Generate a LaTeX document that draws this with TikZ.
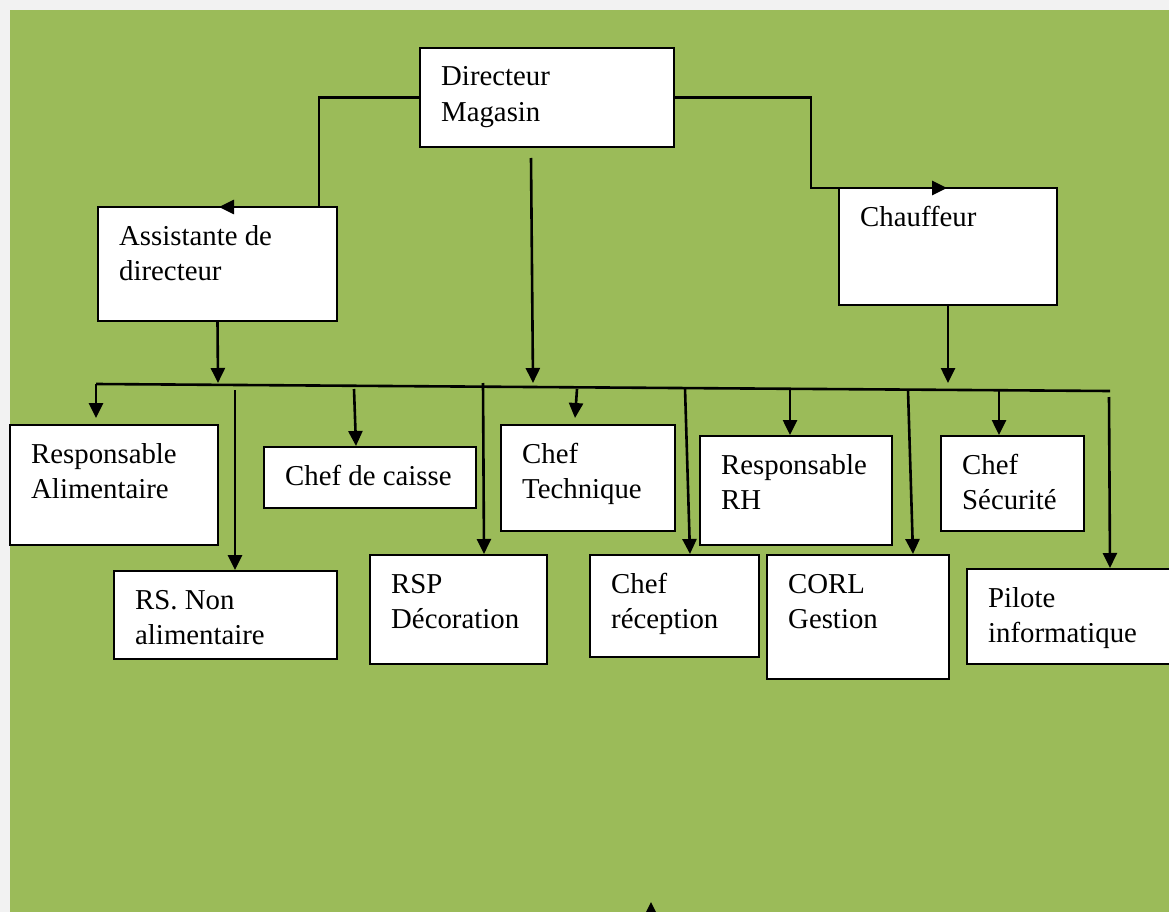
\documentclass[tikz,border=0pt]{standalone}
\usepackage{fontspec}
\setmainfont{Liberation Serif}
\usetikzlibrary{arrows.meta}
\definecolor{bggreen}{HTML}{9BBB59}
\definecolor{bggray}{HTML}{F2F2F2}
\newcommand\twolines[2]{\vtop{\hbox{#1}\hbox{#2}}}
\newcommand\orgbox[6]{%
  \node[orgrect, minimum width={#4-#2}, minimum height={#5-#3}, anchor=north west] (#1) at (#2,#3) {};
  \node[orglabel] (#1-t) at (#2+21,#3+38) {#6};}
\begin{document}
\begin{tikzpicture}[x=1pt,y=-1pt,
  orgrect/.style={draw=black, fill=white, line width=1.8pt, inner sep=0pt, outer sep=0pt},
  orglabel/.style={anchor=base west, inner sep=0pt, font=\fontsize{28.8}{35.5}\selectfont},
  conn/.style={line width=2.6pt, -{Triangle[length=15pt,width=14pt]}},
  bus/.style={line width=2.6pt}]
\useasboundingbox (0,0) rectangle (1169,912);
\clip (0,0) rectangle (1169,912);
\fill[bggray] (0,0) rectangle (1169,912);
\fill[bggreen] (10,10) rectangle (1169,912);

\orgbox{dir}{420}{48}{674}{147}{\twolines{Directeur}{Magasin}}
\orgbox{asst}{98}{207}{337}{321}{\twolines{Assistante de}{directeur}}
\orgbox{chauf}{839}{188}{1057}{305}{Chauffeur}
\orgbox{ralim}{10}{425}{218}{545}{\twolines{Responsable}{Alimentaire}}
\orgbox{caisse}{264}{447}{476}{508}{Chef de caisse}
\orgbox{tech}{501}{425}{675}{531}{\twolines{Chef}{Technique}}
\orgbox{rh}{700}{436}{892}{545}{\twolines{Responsable}{RH}}
\orgbox{secu}{941}{436}{1084}{531}{\twolines{Chef}{Sécurité}}
\orgbox{rsnon}{114}{571}{337}{659}{\twolines{RS. Non}{alimentaire}}
\orgbox{rsp}{370}{555}{547}{664}{\twolines{RSP}{Décoration}}
\orgbox{recep}{590}{555}{759}{657}{\twolines{Chef}{réception}}
\orgbox{corl}{767}{555}{949}{679}{\twolines{CORL}{Gestion}}
\orgbox{pilote}{967}{569}{1185}{664}{\twolines{Pilote}{informatique}}

% top connectors
\coordinate (asstA) at (319,207);
\coordinate (asstB) at (219,207);
\draw[conn] (dir.west) -| (asstA) -- (asstB);
\coordinate (chaufA) at (811,188);
\coordinate (chaufB) at (947,188);
\draw[conn] (dir.east) -| (chaufA) -- (chaufB);

\coordinate (dirS) at (531,158);
\coordinate (dirT) at (533,383);
\draw[conn] (dirS) -- (dirT);
\coordinate (asstT) at (218,383);
\draw[conn] (asst.south) -- (asstT);
\coordinate (chaufT) at (948,383);
\draw[conn] (chauf.south) -- (chaufT);

% bus
\coordinate (busL) at (96,384);
\coordinate (busR) at (1110,391);
\draw[bus] (busL) -- (busR);

% branches
\coordinate (ralimT) at (96,418);
\draw[conn] (busL) -- (ralimT);
\coordinate (rsnonS) at (235,390);
\coordinate (rsnonT) at (235,570);
\draw[conn] (rsnonS) -- (rsnonT);
\coordinate (caisseS) at (354,389);
\coordinate (caisseT) at (356,446);
\draw[conn] (caisseS) -- (caisseT);
\coordinate (rspS) at (483,383);
\coordinate (rspT) at (484,554);
\draw[conn] (rspS) -- (rspT);
\coordinate (techS) at (577,389);
\coordinate (techT) at (575,418);
\draw[conn] (techS) -- (techT);
\coordinate (recepS) at (685,388);
\coordinate (recepT) at (690,554);
\draw[conn] (recepS) -- (recepT);
\coordinate (rhS) at (790,389);
\coordinate (rhT) at (790,435);
\draw[conn] (rhS) -- (rhT);
\coordinate (corlS) at (908,390);
\coordinate (corlT) at (913,554);
\draw[conn] (corlS) -- (corlT);
\coordinate (secuS) at (999,391);
\coordinate (secuT) at (999,435);
\draw[conn] (secuS) -- (secuT);
\coordinate (piloteS) at (1109,397);
\coordinate (piloteT) at (1110,568);
\draw[conn] (piloteS) -- (piloteT);

% partial arrow at bottom edge
\coordinate (botS) at (651,960);
\coordinate (botT) at (651,902);
\draw[conn] (botS) -- (botT);
\end{tikzpicture}
\end{document}
